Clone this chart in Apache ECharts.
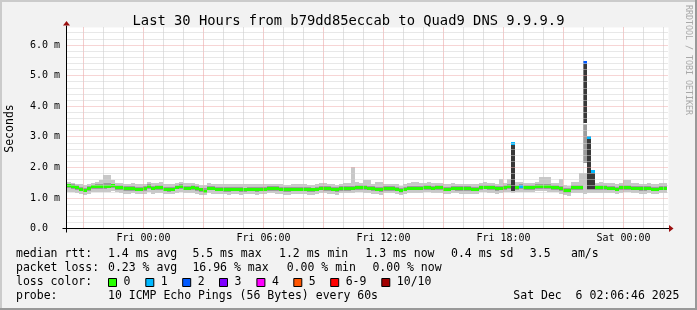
<!DOCTYPE html>
<html><head><meta charset="utf-8">
<script src="https://cdn.jsdelivr.net/npm/echarts@6/dist/echarts.min.js"></script>
<style>html,body{margin:0;padding:0;background:#f2f2f2}#c{width:697px;height:310px}</style>
</head><body><div id="c"></div>
<script>
// ---- data (hours relative to Fri 00:00; values in ms) ----
const startHour = -3.85;   // Thu 20:09
const endHour = 26.25;
const binHours = 0.2;      // 12-minute consolidated bins

const median = [
 1.39,1.37,1.33,1.29,1.25,1.30,1.36,1.36,1.37,1.37, 1.38,1.39,1.34,1.34,1.31,1.31,1.31,1.29,1.29,1.30,
 1.37,1.32,1.34,1.34,1.29,1.27,1.29,1.35,1.36,1.32, 1.32,1.33,1.31,1.26,1.22,1.32,1.32,1.28,1.28,1.27,
 1.27,1.28,1.28,1.27,1.27,1.28,1.28,1.27,1.28,1.28, 1.31,1.31,1.30,1.29,1.27,1.27,1.28,1.28,1.28,1.29,
 1.27,1.26,1.29,1.32,1.31,1.30,1.29,1.27,1.31,1.31, 1.31,1.32,1.34,1.34,1.33,1.32,1.30,1.29,1.27,1.31,
 1.31,1.31,1.28,1.23,1.28,1.32,1.32,1.32,1.32,1.34, 1.34,1.32,1.33,1.33,1.28,1.29,1.32,1.31,1.30,1.30,
 1.30,1.28,1.28,1.34,1.35,1.33,1.33,1.30,1.32,1.34, 1.36,2.78,1.34,1.36,1.34,1.34,1.34,1.37,1.37,1.37,
 1.36,1.34,1.34,1.30,1.24,1.23,1.33,1.33,1.33,5.43, 2.99,1.86,1.33,1.33,1.33,1.32,1.32,1.29,1.33,1.34,
 1.34,1.32,1.32,1.30,1.30,1.32,1.29,1.29,1.32,1.32
];
const pingHi = [
 1.52,1.50,1.47,1.45,1.42,1.46,1.50,1.51,1.58,1.74, 1.74,1.58,1.50,1.49,1.47,1.46,1.48,1.45,1.46,1.47,
 1.52,1.49,1.50,1.52,1.46,1.44,1.46,1.50,1.52,1.48, 1.48,1.50,1.47,1.43,1.42,1.48,1.47,1.46,1.44,1.44,
 1.45,1.44,1.45,1.46,1.44,1.44,1.46,1.44,1.45,1.44, 1.46,1.46,1.45,1.44,1.42,1.43,1.44,1.44,1.45,1.45,
 1.43,1.42,1.45,1.48,1.49,1.47,1.45,1.43,1.47,1.48, 1.48,2.01,1.52,1.50,1.58,1.58,1.46,1.53,1.53,1.47,
 1.47,1.47,1.44,1.40,1.44,1.48,1.52,1.52,1.48,1.50, 1.51,1.48,1.49,1.49,1.44,1.45,1.48,1.47,1.46,1.46,
 1.45,1.44,1.46,1.50,1.52,1.48,1.48,1.46,1.63,1.50, 1.63,1.48,1.52,1.52,1.50,1.50,1.50,1.53,1.68,1.69,
 1.69,1.50,1.50,1.63,1.42,1.40,1.53,1.53,1.80,1.80, 1.48,1.48,1.49,1.52,1.50,1.48,1.48,1.45,1.49,1.60,
 1.60,1.48,1.48,1.46,1.46,1.48,1.45,1.45,1.48,1.48
];
const pingQ3 = [
 1.46,1.44,1.41,1.37,1.33,1.38,1.43,1.44,1.46,1.48, 1.48,1.46,1.41,1.41,1.38,1.38,1.39,1.36,1.37,1.38,
 1.44,1.40,1.42,1.42,1.37,1.35,1.37,1.42,1.44,1.40, 1.40,1.41,1.39,1.34,1.31,1.40,1.39,1.36,1.35,1.35,
 1.35,1.36,1.35,1.35,1.34,1.36,1.35,1.35,1.36,1.35, 1.39,1.39,1.38,1.37,1.35,1.35,1.36,1.36,1.36,1.37,
 1.35,1.34,1.37,1.40,1.39,1.38,1.37,1.35,1.39,1.39, 1.39,1.40,1.42,1.42,1.41,1.40,1.38,1.37,1.35,1.39,
 1.39,1.39,1.36,1.31,1.36,1.40,1.40,1.40,1.40,1.42, 1.42,1.40,1.41,1.41,1.36,1.37,1.40,1.39,1.38,1.38,
 1.38,1.36,1.36,1.42,1.43,1.41,1.41,1.38,1.40,1.42, 1.44,1.42,1.42,1.44,1.42,1.42,1.42,1.45,1.45,1.45,
 1.44,1.42,1.42,1.38,1.32,1.31,1.41,1.41,1.41,3.42, 1.42,1.42,1.41,1.41,1.41,1.40,1.40,1.37,1.41,1.42,
 1.42,1.40,1.40,1.38,1.38,1.40,1.37,1.37,1.40,1.40
];
const pingQ1 = [
 1.33,1.30,1.26,1.22,1.18,1.23,1.29,1.29,1.30,1.30, 1.31,1.32,1.27,1.27,1.24,1.24,1.24,1.22,1.22,1.23,
 1.30,1.25,1.27,1.27,1.22,1.20,1.22,1.28,1.29,1.25, 1.25,1.26,1.24,1.19,1.15,1.25,1.25,1.21,1.21,1.20,
 1.20,1.21,1.21,1.20,1.20,1.21,1.21,1.20,1.21,1.21, 1.24,1.24,1.23,1.22,1.20,1.20,1.21,1.21,1.21,1.22,
 1.20,1.19,1.22,1.25,1.24,1.23,1.22,1.20,1.24,1.24, 1.24,1.25,1.27,1.27,1.26,1.25,1.23,1.22,1.20,1.24,
 1.24,1.24,1.21,1.16,1.21,1.25,1.25,1.25,1.25,1.27, 1.27,1.25,1.26,1.26,1.21,1.22,1.25,1.24,1.23,1.23,
 1.23,1.21,1.21,1.27,1.28,1.26,1.26,1.23,1.25,1.27, 1.29,1.25,1.27,1.29,1.27,1.27,1.27,1.30,1.30,1.30,
 1.29,1.27,1.27,1.23,1.17,1.16,1.26,1.26,1.26,2.14, 1.25,1.25,1.26,1.26,1.26,1.25,1.25,1.22,1.26,1.27,
 1.27,1.25,1.25,1.23,1.23,1.25,1.22,1.22,1.25,1.25
];
const pingLo = [
 1.20,1.18,1.15,1.12,1.10,1.12,1.18,1.20,1.20,1.20, 1.20,1.22,1.18,1.16,1.14,1.14,1.15,1.12,1.12,1.14,
 1.18,1.14,1.16,1.16,1.12,1.12,1.12,1.17,1.18,1.15, 1.15,1.15,1.13,1.10,1.08,1.15,1.14,1.12,1.12,1.12,
 1.10,1.12,1.12,1.11,1.12,1.12,1.12,1.11,1.12,1.12, 1.15,1.15,1.14,1.13,1.11,1.11,1.12,1.12,1.12,1.13,
 1.11,1.10,1.13,1.16,1.15,1.14,1.13,1.11,1.15,1.15, 1.15,1.16,1.18,1.18,1.17,1.16,1.14,1.13,1.11,1.15,
 1.15,1.15,1.12,1.08,1.12,1.16,1.16,1.16,1.16,1.18, 1.18,1.16,1.17,1.17,1.12,1.13,1.16,1.15,1.14,1.14,
 1.14,1.12,1.12,1.18,1.19,1.17,1.17,1.14,1.16,1.18, 1.20,1.16,1.18,1.20,1.18,1.18,1.18,1.21,1.21,1.21,
 1.20,1.18,1.18,1.14,1.08,1.07,1.17,1.17,1.15,1.12, 1.15,1.15,1.17,1.17,1.17,1.16,1.16,1.13,1.17,1.18,
 1.18,1.16,1.16,1.14,1.14,1.16,1.13,1.13,1.16,1.16
];
// innermost ping range where it separates from the median (latency bursts)
const burstBins = [111, 129, 130, 131];
const burstLo   = [1.22, 3.45, 1.28, 1.28];
const burstHi   = [2.72, 5.41, 2.96, 1.82];
// lost pings per bin (others 0)
const lossBins  = [111, 113, 129, 130, 131];
const lossCount = [1, 1, 2, 1, 1];

const lossLabels = ['0','1','2','3','4','5','6-9','10/10'];
const lossColors = ['#26ff00','#00b8ff','#0059ff','#7e00ff','#ff00ff','#ff5500','#ff0000','#a10000'];

const xTickHours  = [0, 6, 12, 18, 24];
const xTickLabels = ['Fri 00:00','Fri 06:00','Fri 12:00','Fri 18:00','Sat 00:00'];
const yTickValues = [0, 1, 2, 3, 4, 5, 6];
const yTickLabels = ['0.0','1.0 m','2.0 m','3.0 m','4.0 m','5.0 m','6.0 m'];
const yMax = 6.57;

const titleText = 'Last 30 Hours from b79dd85eccab to Quad9 DNS 9.9.9.9';
const legendRows = [
  [['median rtt:',16],['1.4 ms avg',108],['5.5 ms max',192.4],['1.2 ms min',279],['1.3 ms now',365.3],['0.4 ms sd',451],['3.5',529.8],['am/s',571]],
  [['packet loss:',16],['0.23 % avg',108],['16.96 % max',192.4],['0.00 % min',286.7],['0.00 % now',372.4]],
  [['loss color:',16]],
  [['probe:',16],['10 ICMP Echo Pings (56 Bytes) every 60s',108],['Sat Dec  6 02:06:46 2025',513.3]]
];
const swatchX = [108, 145.3, 182.2, 219, 256.4, 293.3, 330.2, 381.3];

// ---- build ----
const MONO = "'DejaVu Sans Mono', monospace";
const lossArr = median.map(() => 0);
lossBins.forEach((b, k) => { lossArr[b] = lossCount[k]; });
const burstMap = {};
burstBins.forEach((b, k) => { burstMap[b] = [burstLo[k], burstHi[k]]; });

const rows = median.map((m, i) => [i, startHour + i * binHours, startHour + (i + 1) * binHours,
  pingLo[i], pingQ1[i], pingQ3[i], pingHi[i], m, lossArr[i]]);

const gridMarks = [];
for (let h = Math.ceil(startHour); h <= Math.floor(endHour); h++) {
  const major = (h % 3 === 0);
  gridMarks.push({xAxis: h, lineStyle: {color: major ? '#e79a9a' : '#c4c4c4', type: [1, 1], width: 1}});
}
for (let k = 1; k * 0.2 < yMax; k++) {
  const v = +(k * 0.2).toFixed(1);
  const major = (k % 5 === 0);
  gridMarks.push({yAxis: v, lineStyle: {color: major ? '#eeaaaa' : '#d0d0d0', type: [1, 1], width: 1}});
}

const chart = echarts.init(document.getElementById('c'), null, {renderer: 'canvas'});

function renderItem(params, api) {
  const i = api.value(0), t0 = api.value(1), t1 = api.value(2);
  const children = [];
  const band = (a, b, color) => {
    const p0 = api.coord([t0, b]), p1 = api.coord([t1, a]);
    const x0 = Math.round(p0[0]), x1 = Math.round(p1[0]);
    const y0 = Math.round(p0[1]), y1 = Math.round(p1[1]);
    children.push({type: 'rect', shape: {x: x0, y: y0, width: x1 - x0, height: Math.max(1, y1 - y0)},
      style: {fill: color}});
  };
  band(api.value(3), api.value(6), '#c8c8c8');
  band(api.value(4), api.value(5), '#9c9c9c');
  if (burstMap[i]) band(burstMap[i][0], burstMap[i][1], '#383838');
  const pm = api.coord([t0, api.value(7)]), pe = api.coord([t1, api.value(7)]);
  const x0 = Math.round(pm[0]), x1 = Math.round(pe[0]);
  children.push({type: 'rect', shape: {x: x0, y: Math.round(pm[1] - 1.5), width: x1 - x0, height: 3},
    style: {fill: lossColors[api.value(8)]}});
  return {type: 'group', children};
}

chart.setOption({
  animation: false,
  backgroundColor: '#f2f2f2',
  title: {text: titleText, left: 'center', top: 8,
    textStyle: {fontFamily: MONO, fontSize: 13.8, fontWeight: 'normal', color: '#000', lineHeight: 16}},
  grid: {left: 66.5, right: 28.5, top: 27.5, bottom: 81.5, show: true, backgroundColor: '#ffffff', borderWidth: 0},
  xAxis: {type: 'value', min: startHour, max: endHour,
    axisLine: {show: false}, axisTick: {show: false}, splitLine: {show: false},
    axisLabel: {customValues: xTickHours, formatter: v => xTickLabels[xTickHours.indexOf(v)] || '',
      fontFamily: MONO, fontSize: 10, color: '#000', margin: 4, lineHeight: 12}},
  yAxis: {type: 'value', min: 0, max: yMax,
    axisLine: {show: false}, axisTick: {show: false}, splitLine: {show: false},
    axisLabel: {customValues: yTickValues, formatter: v => yTickLabels[yTickValues.indexOf(v)] || '',
      fontFamily: MONO, fontSize: 10, color: '#000', align: 'left', margin: 36.5}},
  series: [
    {type: 'line', data: [], z: 1, silent: true,
      markLine: {silent: true, symbol: ['none', 'none'], label: {show: false}, animation: false, data: gridMarks}},
    {type: 'custom', z: 2, renderItem, data: rows, clip: true, silent: true,
      encode: {x: [1, 2], y: [3, 6]}}
  ]
});

// axes, arrows and legend texts
const o = chart.convertToPixel({gridIndex: 0}, [startHour, 0]);
const tp = chart.convertToPixel({gridIndex: 0}, [startHour, yMax]);
const rp = chart.convertToPixel({gridIndex: 0}, [endHour, 0]);
const g = [];
g.push({type: 'line', shape: {x1: o[0] - 4, y1: o[1], x2: rp[0] + 1, y2: o[1]}, style: {stroke: '#000', lineWidth: 1}, z: 10});
g.push({type: 'line', shape: {x1: o[0], y1: o[1] + 4, x2: o[0], y2: tp[1] - 2}, style: {stroke: '#000', lineWidth: 1}, z: 10});
g.push({type: 'polygon', shape: {points: [[o[0] - 3.5, tp[1] - 2], [o[0] + 3.5, tp[1] - 2], [o[0], tp[1] - 6.5]]}, style: {fill: '#9b1010'}, z: 11});
g.push({type: 'polygon', shape: {points: [[rp[0] + 0.5, o[1] - 3.5], [rp[0] + 0.5, o[1] + 3.5], [rp[0] + 5, o[1]]]}, style: {fill: '#9b1010'}, z: 11});
// y axis name
g.push({type: 'text', x: 10.5, y: 128.5, rotation: Math.PI / 2,
  style: {text: 'Seconds', font: '11.5px ' + MONO, fill: '#000', align: 'center', verticalAlign: 'middle'}});
// watermark
g.push({type: 'text', x: 688, y: 5, rotation: -Math.PI / 2,
  style: {text: 'RRDTOOL / TOBI OETIKER', font: '8.3px ' + MONO, fill: '#a8a8a8', align: 'left', verticalAlign: 'middle'}});
// legend rows
const rowY = [254, 268, 282, 296];
legendRows.forEach((row, r) => row.forEach(([t, x]) => {
  g.push({type: 'text', x: x, y: rowY[r], style: {text: t, font: '11.5px ' + MONO, fill: '#000', align: 'left', verticalAlign: 'middle'}});
}));
lossLabels.forEach((lab, k) => {
  g.push({type: 'rect', shape: {x: swatchX[k] + 0.5, y: 278.5, width: 8, height: 8}, style: {fill: lossColors[k], stroke: '#000', lineWidth: 1}});
  g.push({type: 'text', x: swatchX[k] + 15.5, y: rowY[2], style: {text: lab, font: '11.5px ' + MONO, fill: '#000', align: 'left', verticalAlign: 'middle'}});
});
// frame
g.push({type: 'rect', shape: {x: 0, y: 0, width: 697, height: 2}, style: {fill: '#cbcbcb'}});
g.push({type: 'rect', shape: {x: 0, y: 0, width: 2, height: 310}, style: {fill: '#cbcbcb'}});
g.push({type: 'rect', shape: {x: 695, y: 0, width: 2, height: 310}, style: {fill: '#999999'}});
g.push({type: 'rect', shape: {x: 0, y: 308, width: 697, height: 2}, style: {fill: '#999999'}});
chart.setOption({graphic: g});
</script></body></html>
